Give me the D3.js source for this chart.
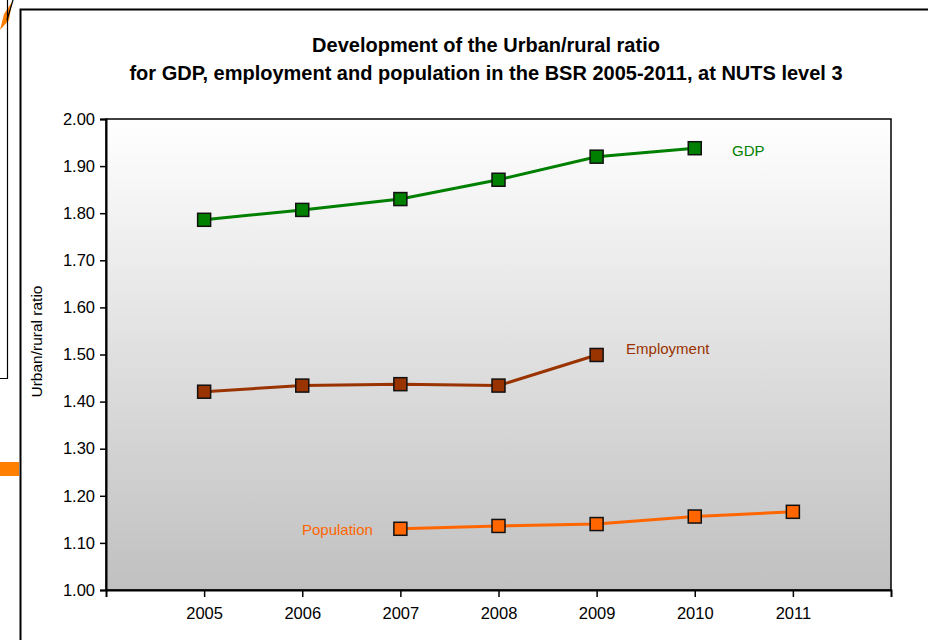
<!DOCTYPE html>
<html>
<head>
<meta charset="utf-8">
<script src="https://cdn.jsdelivr.net/npm/d3@7"></script>
<style>
  html, body { margin: 0; padding: 0; background: #fff; }
  svg { display: block; font-family: Arial, "Liberation Sans", sans-serif; }
</style>
</head>
<body>
<svg id="chart" width="928" height="640"></svg>
<script>
// Urban/rural ratio by year for each indicator
const years = [2005, 2006, 2007, 2008, 2009, 2010, 2011];
const gdpYears = [2005, 2006, 2007, 2008, 2009, 2010];
const gdpValues = [1.786, 1.807, 1.830, 1.871, 1.920, 1.938];
const employmentYears = [2005, 2006, 2007, 2008, 2009];
const employmentValues = [1.421, 1.434, 1.437, 1.434, 1.499];
const populationYears = [2007, 2008, 2009, 2010, 2011];
const populationValues = [1.130, 1.136, 1.140, 1.156, 1.166];
const yTicks = [1.0, 1.1, 1.2, 1.3, 1.4, 1.5, 1.6, 1.7, 1.8, 1.9, 2.0];
const seriesNames = ["GDP", "Employment", "Population"];
const seriesColors = ["#008000", "#993300", "#FF6600"];

const series = [
  { name: seriesNames[0], color: seriesColors[0], pts: gdpYears.map((y, i) => ({ year: y, v: gdpValues[i] })), label: { year: 2010.38, v: 1.929, anchor: "start" } },
  { name: seriesNames[1], color: seriesColors[1], pts: employmentYears.map((y, i) => ({ year: y, v: employmentValues[i] })), label: { year: 2009.3, v: 1.509, anchor: "start" } },
  { name: seriesNames[2], color: seriesColors[2], pts: populationYears.map((y, i) => ({ year: y, v: populationValues[i] })), label: { year: 2006.72, v: 1.125, anchor: "end" } }
];

const svg = d3.select("#chart");

// Surrounding frame lines and fragments of neighbouring shapes
const deco = svg.append("g");
deco.append("path").attr("d", "M0,30 L4,14 L12,2 L9,20 Z").attr("fill", "#FF7F00");
deco.append("line").attr("x1", 7).attr("y1", 20).attr("x2", 13).attr("y2", 0).attr("stroke", "#000").attr("stroke-width", 1.2);
deco.append("path").attr("d", "M7.5,0 V378.5 H0").attr("fill", "none").attr("stroke", "#000").attr("stroke-width", 1.2);
deco.append("path").attr("d", "M20.5,640 V9.5 H928").attr("fill", "none").attr("stroke", "#000").attr("stroke-width", 2);
deco.append("rect").attr("x", 0).attr("y", 462).attr("width", 19).attr("height", 14).attr("fill", "#FF7F00");

const plot = { left: 106, right: 891, top: 119, bottom: 590 };

const x = d3.scaleLinear().domain([2004, 2012]).range([plot.left, plot.right]);
const y = d3.scaleLinear().domain([1.0, 2.0]).range([plot.bottom, plot.top]);

// Plot area background gradient
const defs = svg.append("defs");
const grad = defs.append("linearGradient").attr("id", "bg").attr("x1", 0).attr("y1", 0).attr("x2", 0).attr("y2", 1);
grad.append("stop").attr("offset", "0%").attr("stop-color", "#ffffff");
grad.append("stop").attr("offset", "100%").attr("stop-color", "#c0c0c0");

svg.append("rect")
  .attr("x", plot.left).attr("y", plot.top)
  .attr("width", plot.right - plot.left).attr("height", plot.bottom - plot.top)
  .attr("fill", "url(#bg)")
  .attr("stroke", "#000").attr("stroke-width", 1.5);

// Title
const title = svg.append("text")
  .attr("text-anchor", "middle")
  .attr("font-weight", "bold")
  .attr("font-size", 20)
  .attr("fill", "#000");
title.append("tspan").attr("x", 486).attr("y", 52).text("Development of the Urban/rural ratio");
title.append("tspan").attr("x", 486).attr("y", 80).text("for GDP, employment and population in the BSR 2005-2011, at NUTS level 3");

// Axes
const yAxis = d3.axisLeft(y).tickValues(yTicks).tickFormat(d3.format(".2f")).tickSize(6).tickPadding(5);
const yg = svg.append("g").attr("transform", `translate(${plot.left},0)`).call(yAxis);
yg.select(".domain").attr("stroke-width", 2);
yg.selectAll(".tick line").attr("stroke-width", 1.5);
yg.selectAll("text").attr("font-size", 16.5).attr("font-family", "Arial, 'Liberation Sans', sans-serif").attr("fill", "#000");

const xAxis = d3.axisBottom(x).tickValues(years).tickFormat(d3.format("d")).tickSize(7).tickPadding(10);
const xg = svg.append("g").attr("transform", `translate(0,${plot.bottom})`).call(xAxis);
xg.select(".domain").attr("stroke-width", 2);
xg.selectAll(".tick line").attr("stroke-width", 1.5);
xg.selectAll("text").attr("font-size", 16.5).attr("font-family", "Arial, 'Liberation Sans', sans-serif").attr("fill", "#000");

// Y axis title
svg.append("text")
  .attr("transform", `translate(42,${(plot.top + plot.bottom) / 2 - 13}) rotate(-90)`)
  .attr("text-anchor", "middle")
  .attr("font-size", 15.5)
  .attr("fill", "#000")
  .text("Urban/rural ratio");

// Series lines, markers and labels
const line = d3.line().x(d => x(d.year)).y(d => y(d.v));
series.forEach(s => {
  const g = svg.append("g");
  g.append("path").datum(s.pts)
    .attr("d", line)
    .attr("fill", "none")
    .attr("stroke", s.color)
    .attr("stroke-width", 3);
  g.selectAll("rect").data(s.pts).join("rect")
    .attr("x", d => x(d.year) - 6.5)
    .attr("y", d => y(d.v) - 6.5)
    .attr("width", 13).attr("height", 13)
    .attr("fill", s.color)
    .attr("stroke", "#111").attr("stroke-width", 1.5);
  g.append("text")
    .attr("x", x(s.label.year)).attr("y", y(s.label.v))
    .attr("text-anchor", s.label.anchor)
    .attr("dominant-baseline", "middle")
    .attr("font-size", 15)
    .attr("fill", s.color)
    .text(s.name);
});
</script>
</body>
</html>
